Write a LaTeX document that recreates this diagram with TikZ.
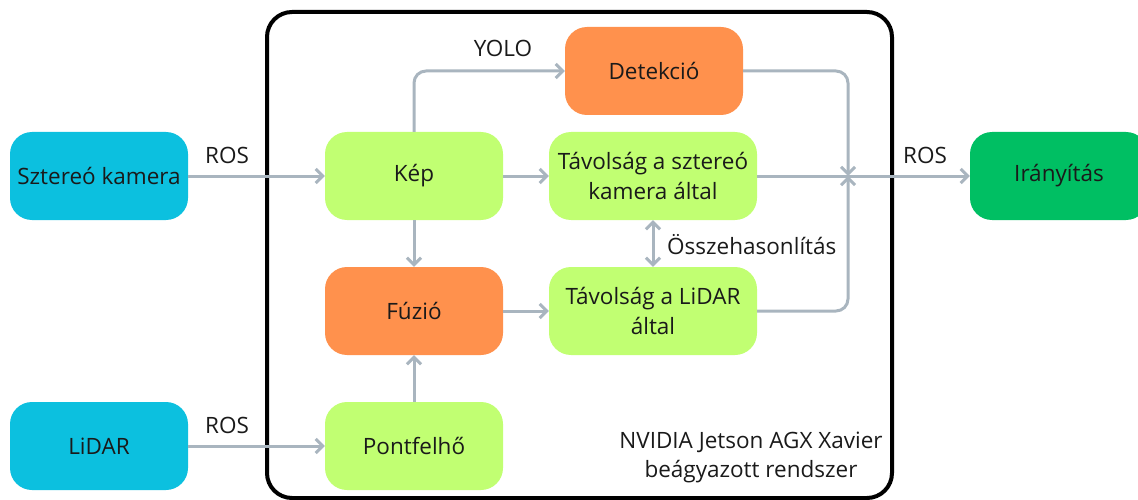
\documentclass[tikz,border=0pt]{standalone}
\usepackage{fontspec}
\setmainfont{Open Sans}
\usetikzlibrary{arrows.meta}
\definecolor{cyanb}{HTML}{0CC0DF}
\definecolor{limeb}{HTML}{C1FF72}
\definecolor{orangeb}{HTML}{FF914D}
\definecolor{greenb}{HTML}{00BF63}
\definecolor{grayc}{HTML}{A9B5BF}
\definecolor{txt}{HTML}{1A1A1A}
\begin{document}
\begin{tikzpicture}[x=1pt,y=-1pt,
  box/.style={rounded corners=22pt, minimum width=178pt, minimum height=88pt, inner sep=0pt,
    font=\fontsize{22.5}{30}\selectfont, text=txt, align=center},
  wide/.style={box, minimum width=208pt},
  lbl/.style={font=\fontsize{22.5}{29}\selectfont, text=txt, inner sep=0pt, align=center},
  conn/.style={draw=grayc, line width=3pt, rounded corners=12pt, -{Straight Barb[length=7pt,width=14pt]}},
  dconn/.style={draw=grayc, line width=3pt, {Straight Barb[length=7pt,width=14pt]}-{Straight Barb[length=7pt,width=14pt]}}
]
\useasboundingbox (0,0) rectangle (1138,500);
\draw[line width=4pt, rounded corners=25pt] (267,12) rectangle (892,498);
\node[box, fill=cyanb] (sk) at (99,176) {Sztereó kamera};
\node[box, fill=cyanb] (li) at (99,446) {LiDAR};
\node[box, fill=limeb] (kep) at (414,176) {Kép};
\node[box, fill=orangeb] (det) at (654,71) {Detekció};
\node[wide, fill=limeb] (ts) at (653,176) {Távolság a sztereó\\kamera által};
\node[box, fill=orangeb] (fu) at (414,311) {Fúzió};
\node[wide, fill=limeb] (tl) at (653,311) {Távolság a LiDAR\\által};
\node[box, fill=limeb] (pf) at (414,446) {Pontfelhő};
\node[box, fill=greenb] (ir) at (1059,176) {Irányítás};
\coordinate (m) at (848,176);
\draw[conn] (sk) -- (kep);
\draw[conn] (li) -- (pf);
\draw[conn] (kep.north) |- (det.west);
\draw[conn] (kep) -- (ts);
\draw[conn] (kep) -- (fu);
\draw[conn] (pf) -- (fu);
\draw[conn] (fu) -- (tl);
\draw[dconn] (ts) -- (tl);
\draw[conn] (det.east) -| (m);
\draw[conn] (tl.east) -| (m);
\draw[conn] (ts) -- (ir);
\node[lbl] (r1) at (227,155) {ROS};
\node[lbl] (r2) at (227,425) {ROS};
\node[lbl] (r3) at (925,155) {ROS};
\node[lbl] (yolo) at (503,48) {YOLO};
\node[lbl, anchor=west] (ossz) at (667,245) {Összehasonlítás};
\node[lbl] (nv) at (751,457) {NVIDIA Jetson AGX Xavier\\beágyazott rendszer};
\end{tikzpicture}
\end{document}
